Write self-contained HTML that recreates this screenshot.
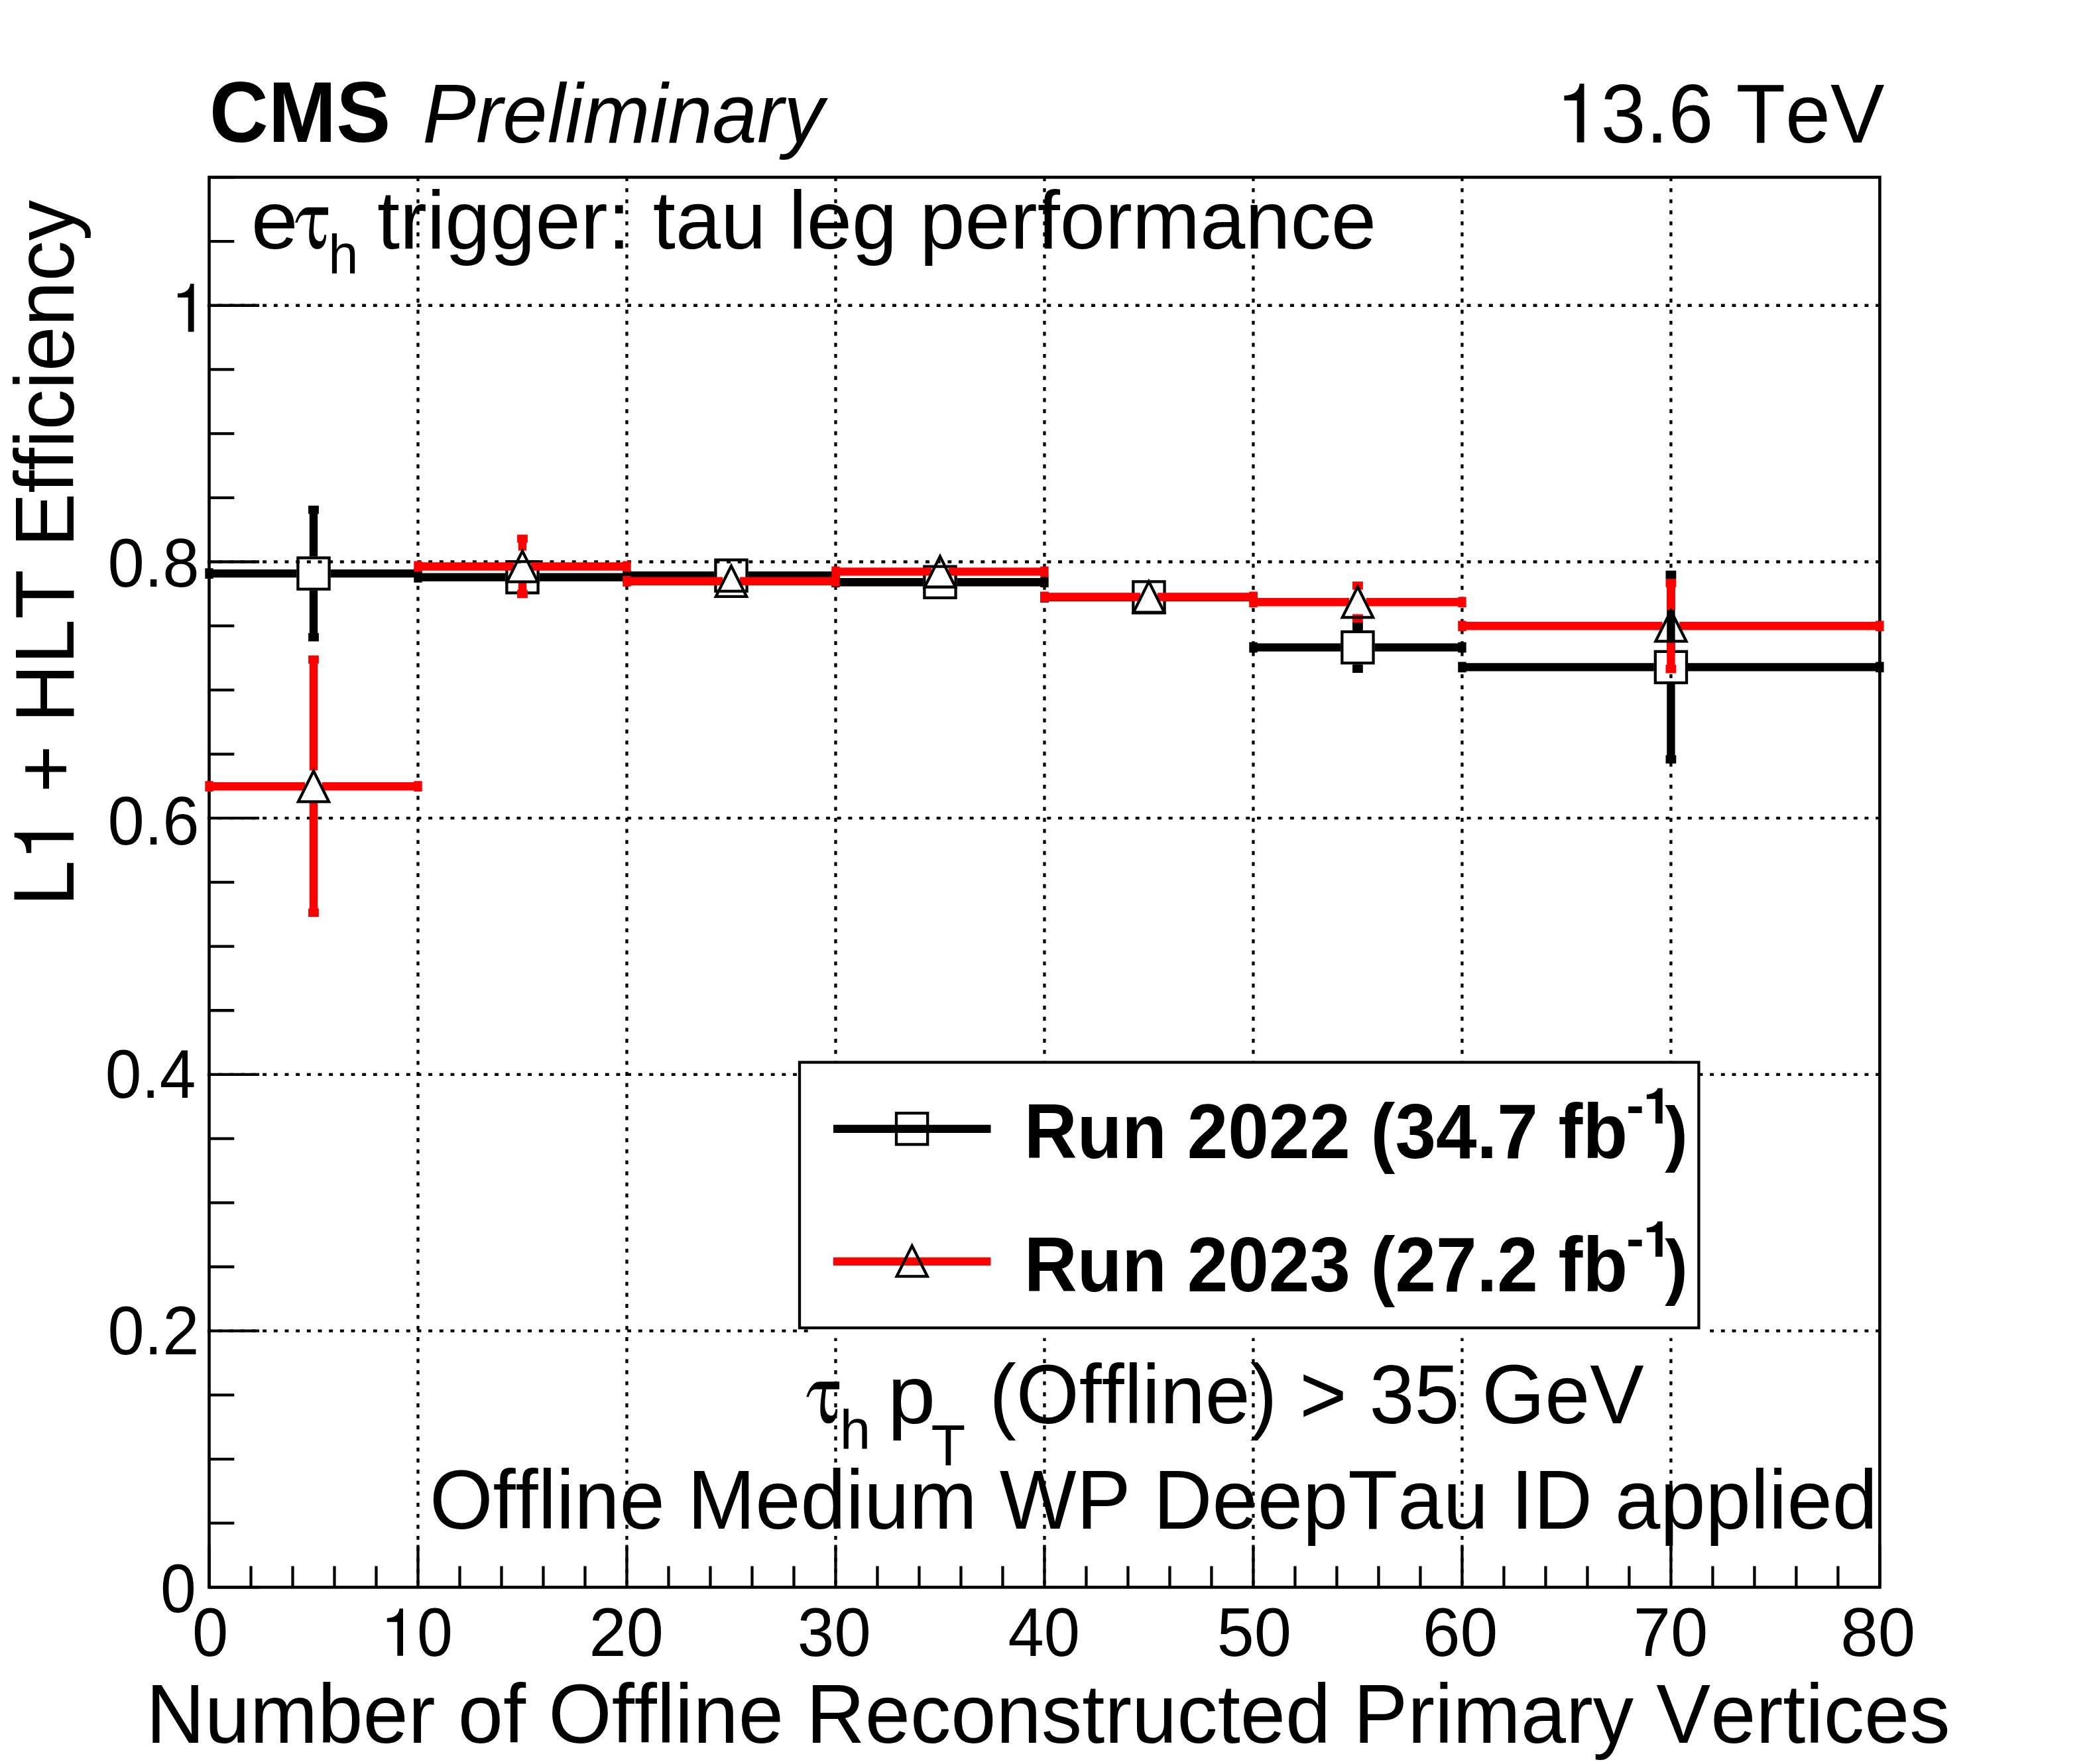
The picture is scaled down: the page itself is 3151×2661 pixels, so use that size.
<!DOCTYPE html>
<html><head><meta charset="utf-8"><style>
html,body{margin:0;padding:0;background:#fff;}
svg{display:block;}
text{font-kerning:none;font-variant-ligatures:none;fill:#000;}
.sans{font-family:"Liberation Sans", sans-serif;}
.serif{font-family:"Liberation Serif", serif;}
</style></head><body>
<svg width="3151" height="2661" viewBox="0 0 3151 2661">
<rect x="0" y="0" width="3151" height="2661" fill="#fff"/>
<line x1="630.49" y1="267.3" x2="630.49" y2="2394.40" stroke="#000" stroke-width="4.3" stroke-dasharray="5.9 10.764"/>
<line x1="945.48" y1="267.3" x2="945.48" y2="2394.40" stroke="#000" stroke-width="4.3" stroke-dasharray="5.9 10.764"/>
<line x1="1260.46" y1="267.3" x2="1260.46" y2="2394.40" stroke="#000" stroke-width="4.3" stroke-dasharray="5.9 10.764"/>
<line x1="1575.45" y1="267.3" x2="1575.45" y2="2394.40" stroke="#000" stroke-width="4.3" stroke-dasharray="5.9 10.764"/>
<line x1="1890.44" y1="267.3" x2="1890.44" y2="2394.40" stroke="#000" stroke-width="4.3" stroke-dasharray="5.9 10.764"/>
<line x1="2205.43" y1="267.3" x2="2205.43" y2="2394.40" stroke="#000" stroke-width="4.3" stroke-dasharray="5.9 10.764"/>
<line x1="2520.41" y1="267.3" x2="2520.41" y2="2394.40" stroke="#000" stroke-width="4.3" stroke-dasharray="5.9 10.764"/>
<line x1="312.9" y1="2007.67" x2="2835.40" y2="2007.67" stroke="#000" stroke-width="4.3" stroke-dasharray="5.9 10.764"/>
<line x1="312.9" y1="1620.95" x2="2835.40" y2="1620.95" stroke="#000" stroke-width="4.3" stroke-dasharray="5.9 10.764"/>
<line x1="312.9" y1="1234.22" x2="2835.40" y2="1234.22" stroke="#000" stroke-width="4.3" stroke-dasharray="5.9 10.764"/>
<line x1="312.9" y1="847.49" x2="2835.40" y2="847.49" stroke="#000" stroke-width="4.3" stroke-dasharray="5.9 10.764"/>
<line x1="312.9" y1="460.76" x2="2835.40" y2="460.76" stroke="#000" stroke-width="4.3" stroke-dasharray="5.9 10.764"/>
<path d="M315.50 2394.40H391.10M315.50 2297.72H353.30M315.50 2201.04H353.30M315.50 2104.35H353.30M315.50 2007.67H391.10M315.50 1910.99H353.30M315.50 1814.31H353.30M315.50 1717.63H353.30M315.50 1620.95H391.10M315.50 1524.26H353.30M315.50 1427.58H353.30M315.50 1330.90H353.30M315.50 1234.22H391.10M315.50 1137.54H353.30M315.50 1040.85H353.30M315.50 944.17H353.30M315.50 847.49H391.10M315.50 750.81H353.30M315.50 654.13H353.30M315.50 557.45H353.30M315.50 460.76H391.10M315.50 364.08H353.30M315.50 267.40H353.30M315.50 2394.40V2330.60M378.50 2394.40V2362.50M441.50 2394.40V2362.50M504.49 2394.40V2362.50M567.49 2394.40V2362.50M630.49 2394.40V2330.60M693.49 2394.40V2362.50M756.48 2394.40V2362.50M819.48 2394.40V2362.50M882.48 2394.40V2362.50M945.48 2394.40V2330.60M1008.47 2394.40V2362.50M1071.47 2394.40V2362.50M1134.47 2394.40V2362.50M1197.46 2394.40V2362.50M1260.46 2394.40V2330.60M1323.46 2394.40V2362.50M1386.46 2394.40V2362.50M1449.46 2394.40V2362.50M1512.45 2394.40V2362.50M1575.45 2394.40V2330.60M1638.45 2394.40V2362.50M1701.45 2394.40V2362.50M1764.44 2394.40V2362.50M1827.44 2394.40V2362.50M1890.44 2394.40V2330.60M1953.43 2394.40V2362.50M2016.43 2394.40V2362.50M2079.43 2394.40V2362.50M2142.43 2394.40V2362.50M2205.43 2394.40V2330.60M2268.42 2394.40V2362.50M2331.42 2394.40V2362.50M2394.42 2394.40V2362.50M2457.41 2394.40V2362.50M2520.41 2394.40V2330.60M2583.41 2394.40V2362.50M2646.41 2394.40V2362.50M2709.40 2394.40V2362.50M2772.40 2394.40V2362.50M2835.40 2394.40V2330.60" stroke="#000" stroke-width="4.3" fill="none"/>
<rect x="315.5" y="267.4" width="2519.90" height="2127.00" fill="none" stroke="#000" stroke-width="4.6"/>
<path d="M315.50 865.10H447.39M498.59 865.10H630.49M472.99 839.50V769.00M472.99 890.70V961.30M630.49 870.80H762.38M813.58 870.80H945.48M945.48 868.20H1077.37M1128.57 868.20H1260.46M1260.46 878.20H1392.36M1443.56 878.20H1575.45M1575.45 901.00H1707.34M1758.54 901.00H1890.44M1890.44 976.60H2022.33M2073.53 976.60H2205.43M2047.93 951.00V944.60M2047.93 1002.20V1008.70M2205.43 1006.40H2494.81M2546.01 1006.40H2835.40M2520.41 980.80V867.00M2520.41 1032.00V1145.50M315.50 857.20V873.00M630.49 857.20V873.00M465.09 769.00H480.89M465.09 961.30H480.89M630.49 862.90V878.70M945.48 862.90V878.70M945.48 860.30V876.10M1260.46 860.30V876.10M1260.46 870.30V886.10M1575.45 870.30V886.10M1575.45 893.10V908.90M1890.44 893.10V908.90M1890.44 968.70V984.50M2205.43 968.70V984.50M2040.03 944.60H2055.83M2040.03 1008.70H2055.83M2205.43 998.50V1014.30M2835.40 998.50V1014.30M2512.51 867.00H2528.31M2512.51 1145.50H2528.31" stroke="#000" stroke-width="12.4" fill="none"/>
<rect x="449.39" y="841.50" width="47.20" height="47.20" fill="none" stroke="#000" stroke-width="4.3"/>
<rect x="764.38" y="847.20" width="47.20" height="47.20" fill="none" stroke="#000" stroke-width="4.3"/>
<rect x="1079.37" y="844.60" width="47.20" height="47.20" fill="none" stroke="#000" stroke-width="4.3"/>
<rect x="1394.36" y="854.60" width="47.20" height="47.20" fill="none" stroke="#000" stroke-width="4.3"/>
<rect x="1709.34" y="877.40" width="47.20" height="47.20" fill="none" stroke="#000" stroke-width="4.3"/>
<rect x="2024.33" y="953.00" width="47.20" height="47.20" fill="none" stroke="#000" stroke-width="4.3"/>
<rect x="2496.81" y="982.80" width="47.20" height="47.20" fill="none" stroke="#000" stroke-width="4.3"/>
<path d="M315.50 1186.20H460.19M485.79 1186.20H630.49M472.99 1162.20V994.90M472.99 1210.20V1376.70M630.49 854.50H775.18M800.78 854.50H945.48M787.98 830.50V812.60M787.98 878.50V896.00M945.48 876.80H1090.17M1115.77 876.80H1260.46M1260.46 862.40H1405.16M1430.76 862.40H1575.45M1575.45 900.50H1720.14M1745.74 900.50H1890.44M1890.44 908.30H2035.13M2060.73 908.30H2205.43M2047.93 884.30V883.40M2047.93 932.30V932.80M2205.43 944.30H2507.61M2533.21 944.30H2835.40M2520.41 920.30V879.50M2520.41 968.30V1009.20M315.50 1178.30V1194.10M630.49 1178.30V1194.10M465.09 994.90H480.89M465.09 1376.70H480.89M630.49 846.60V862.40M945.48 846.60V862.40M780.08 812.60H795.88M780.08 896.00H795.88M945.48 868.90V884.70M1260.46 868.90V884.70M1260.46 854.50V870.30M1575.45 854.50V870.30M1575.45 892.60V908.40M1890.44 892.60V908.40M1890.44 900.40V916.20M2205.43 900.40V916.20M2040.03 883.40H2055.83M2040.03 932.80H2055.83M2205.43 936.40V952.20M2835.40 936.40V952.20M2512.51 879.50H2528.31M2512.51 1009.20H2528.31" stroke="#f00" stroke-width="12.4" fill="none"/>
<path d="M449.89 1209.30L496.09 1209.30L472.99 1163.10Z" fill="none" stroke="#000" stroke-width="4.3" stroke-miterlimit="10"/>
<path d="M764.88 877.60L811.08 877.60L787.98 831.40Z" fill="none" stroke="#000" stroke-width="4.3" stroke-miterlimit="10"/>
<path d="M1079.87 899.90L1126.07 899.90L1102.97 853.70Z" fill="none" stroke="#000" stroke-width="4.3" stroke-miterlimit="10"/>
<path d="M1394.86 885.50L1441.06 885.50L1417.96 839.30Z" fill="none" stroke="#000" stroke-width="4.3" stroke-miterlimit="10"/>
<path d="M1709.84 923.60L1756.04 923.60L1732.94 877.40Z" fill="none" stroke="#000" stroke-width="4.3" stroke-miterlimit="10"/>
<path d="M2024.83 931.40L2071.03 931.40L2047.93 885.20Z" fill="none" stroke="#000" stroke-width="4.3" stroke-miterlimit="10"/>
<path d="M2497.31 967.40L2543.51 967.40L2520.41 921.20Z" fill="none" stroke="#000" stroke-width="4.3" stroke-miterlimit="10"/>
<text class="sans" x="289.89" y="2497.90" font-size="104" textLength="54.22" lengthAdjust="spacingAndGlyphs">0</text>
<path d="M608.00 2497.70L608.00 2426.50L602.52 2426.50C601.59 2435.04 595.90 2440.74 583.79 2440.95L583.79 2446.86L599.31 2446.86L599.31 2497.70Z" fill="#000"/>
<text class="sans" x="629.02" y="2497.90" font-size="104" textLength="53.87" lengthAdjust="spacingAndGlyphs">0</text>
<text class="sans" x="888.62" y="2497.90" font-size="104" textLength="112.43" lengthAdjust="spacingAndGlyphs">20</text>
<text class="sans" x="1202.80" y="2497.90" font-size="104" textLength="111.11" lengthAdjust="spacingAndGlyphs">30</text>
<text class="sans" x="1520.56" y="2497.90" font-size="104" textLength="108.34" lengthAdjust="spacingAndGlyphs">40</text>
<text class="sans" x="1835.55" y="2497.90" font-size="104" textLength="112.50" lengthAdjust="spacingAndGlyphs">50</text>
<text class="sans" x="2145.71" y="2497.90" font-size="104" textLength="113.68" lengthAdjust="spacingAndGlyphs">60</text>
<text class="sans" x="2463.71" y="2497.90" font-size="104" textLength="112.54" lengthAdjust="spacingAndGlyphs">70</text>
<text class="sans" x="2776.29" y="2497.90" font-size="104" textLength="112.77" lengthAdjust="spacingAndGlyphs">80</text>
<text class="sans" x="242.12" y="2431.50" font-size="104" textLength="53.75" lengthAdjust="spacingAndGlyphs">0</text>
<text class="sans" x="162.42" y="2043.00" font-size="104" textLength="137.97" lengthAdjust="spacingAndGlyphs">0.2</text>
<text class="sans" x="158.86" y="1655.80" font-size="104" textLength="136.51" lengthAdjust="spacingAndGlyphs">0.4</text>
<text class="sans" x="162.42" y="1273.80" font-size="104" textLength="138.26" lengthAdjust="spacingAndGlyphs">0.6</text>
<text class="sans" x="162.42" y="885.30" font-size="104" textLength="138.20" lengthAdjust="spacingAndGlyphs">0.8</text>
<path d="M292.60 500.40L292.60 427.90L287.02 427.90C286.08 436.60 280.28 442.40 267.95 442.62L267.95 448.63L283.75 448.63L283.75 500.40Z" fill="#000"/>
<text class="sans" font-weight="bold" x="316.06" y="214.40" font-size="130" textLength="273.04" lengthAdjust="spacingAndGlyphs">CMS</text>
<text class="sans" font-style="italic" x="637.28" y="214.90" font-size="126" textLength="605.54" lengthAdjust="spacingAndGlyphs">Preliminary</text>
<path d="M2389.50 214.80L2389.50 126.20L2382.68 126.20C2381.53 136.83 2374.44 143.92 2359.38 144.19L2359.38 151.54L2378.69 151.54L2378.69 214.80Z" fill="#000"/>
<text class="sans" x="2414.54" y="215.00" font-size="126" textLength="428.09" lengthAdjust="spacingAndGlyphs">3.6 TeV</text>
<text class="sans" x="220.13" y="2629.20" font-size="126" textLength="2721.50" lengthAdjust="spacingAndGlyphs">Number of Offline Reconstructed Primary Vertices</text>
<g transform="translate(111,1356.9) rotate(-90)"><text class="sans" x="-10.29" y="0.00" font-size="130" textLength="69.75" lengthAdjust="spacingAndGlyphs">L</text><path d="M100.60 0.00L100.60 -89.30L93.72 -89.30C92.56 -78.58 85.42 -71.44 70.24 -71.17L70.24 -63.76L89.71 -63.76L89.71 0.00Z" fill="#000"/><text class="sans" x="161.23" y="0.00" font-size="126" textLength="893.81" lengthAdjust="spacingAndGlyphs">+ HLT Efficiency</text></g>
<text class="sans" x="378.89" y="375.00" font-size="125" textLength="70.88" lengthAdjust="spacingAndGlyphs">e</text>
<path d="M495.00 312.80L464.90 312.80C455.00 312.80 448.00 326.00 445.20 335.70L448.80 335.70C450.50 330.00 453.50 324.30 459.00 324.30L469.20 324.30C467.60 334.00 466.20 345.00 466.20 355.00C466.20 368.00 471.00 375.80 478.30 375.80C487.50 375.80 492.30 366.00 492.10 354.20L489.20 354.20C488.40 360.50 486.20 364.10 482.80 364.10C476.50 364.10 473.10 357.00 473.10 348.00C473.10 340.00 474.10 331.00 475.00 324.30L495.00 324.30Z" fill="#000"/>
<text class="sans" x="495.36" y="412.80" font-size="84" textLength="45.22" lengthAdjust="spacingAndGlyphs">h</text>
<text class="sans" x="568.94" y="375.00" font-size="125" textLength="1507.11" lengthAdjust="spacingAndGlyphs">trigger: tau leg performance</text>
<path d="M1266.10 2084.30L1236.00 2084.30C1226.10 2084.30 1219.10 2097.50 1216.30 2107.20L1219.90 2107.20C1221.60 2101.50 1224.60 2095.80 1230.10 2095.80L1240.30 2095.80C1238.70 2105.50 1237.30 2116.50 1237.30 2126.50C1237.30 2139.50 1242.10 2147.30 1249.40 2147.30C1258.60 2147.30 1263.40 2137.50 1263.20 2125.70L1260.30 2125.70C1259.50 2132.00 1257.30 2135.60 1253.90 2135.60C1247.60 2135.60 1244.20 2128.50 1244.20 2119.50C1244.20 2111.50 1245.20 2102.50 1246.10 2095.80L1266.10 2095.80Z" fill="#000"/>
<text class="sans" x="1266.71" y="2186.00" font-size="84" textLength="46.40" lengthAdjust="spacingAndGlyphs">h</text>
<text class="sans" x="1338.80" y="2146.50" font-size="125" textLength="72.47" lengthAdjust="spacingAndGlyphs">p</text>
<text class="sans" x="1404.40" y="2209.90" font-size="87" textLength="51.75" lengthAdjust="spacingAndGlyphs">T</text>
<text class="sans" x="1492.13" y="2146.50" font-size="126" textLength="987.51" lengthAdjust="spacingAndGlyphs">(Offline) &gt; 35 GeV</text>
<text class="sans" x="647.98" y="2305.50" font-size="126" textLength="2184.03" lengthAdjust="spacingAndGlyphs">Offline Medium WP DeepTau ID applied</text>
<path d="M1228.5 2003.1V2018.6H2577.5V1625H2562.4V2003.1Z" fill="#fff"/>
<rect x="1206" y="1602.5" width="1356.4" height="400.6" fill="#fff" stroke="#000" stroke-width="4.3"/>
<path d="M1257 1702.8H1494.5" stroke="#000" stroke-width="12.2"/>
<rect x="1352.00" y="1679.20" width="47.20" height="47.20" fill="none" stroke="#000" stroke-width="4.3"/>
<path d="M1256.8 1902.9H1494.4" stroke="#f00" stroke-width="12.2"/>
<path d="M1352.60 1925.40L1398.80 1925.40L1375.70 1879.20Z" fill="none" stroke="#000" stroke-width="4.3" stroke-miterlimit="10"/>
<text class="sans" font-weight="bold" x="1544.80" y="1747.20" font-size="116" textLength="910.24" lengthAdjust="spacingAndGlyphs">Run 2022 (34.7 fb</text>
<rect x="2456.2" y="1669.10" width="20.4" height="10.0" fill="#000"/>
<path d="M2507.70 1694.80L2507.70 1641.50L2500.40 1641.50C2498.80 1646.83 2492.35 1650.67 2483.82 1650.93L2483.82 1657.76L2497.04 1657.76L2497.04 1694.80Z" fill="#000"/>
<text class="sans" font-weight="bold" x="2511.30" y="1745.80" font-size="110" textLength="34.57" lengthAdjust="spacingAndGlyphs">)</text>
<text class="sans" font-weight="bold" x="1544.80" y="1948.20" font-size="116" textLength="910.24" lengthAdjust="spacingAndGlyphs">Run 2023 (27.2 fb</text>
<rect x="2456.2" y="1870.10" width="20.4" height="10.0" fill="#000"/>
<path d="M2507.70 1895.80L2507.70 1842.50L2500.40 1842.50C2498.80 1847.83 2492.35 1851.67 2483.82 1851.93L2483.82 1858.76L2497.04 1858.76L2497.04 1895.80Z" fill="#000"/>
<text class="sans" font-weight="bold" x="2511.30" y="1946.80" font-size="110" textLength="34.57" lengthAdjust="spacingAndGlyphs">)</text>
</svg>
</body></html>
